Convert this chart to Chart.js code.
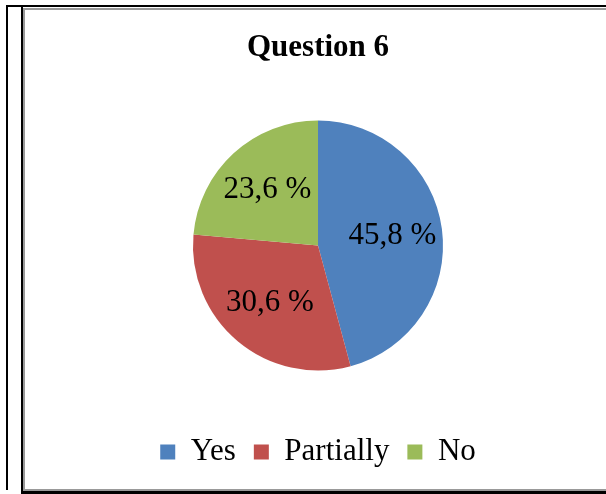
<!DOCTYPE html>
<html>
<head>
<meta charset="utf-8">
<script src="https://cdn.jsdelivr.net/npm/chart.js@4"></script>
<style>
  body { margin: 0; background: #fff; width: 606px; height: 494px; overflow: hidden; position: relative; }
  .ln { position: absolute; }
  #wrap { position: absolute; left: 25px; top: 10px; width: 581px; height: 479px; }
</style>
</head>
<body>
<div class="ln" style="left:6px;top:5px;width:2px;height:485px;background:#000"></div>
<div class="ln" style="left:6px;top:5px;width:600px;height:2px;background:#000"></div>
<div class="ln" style="left:21px;top:7px;width:2px;height:487px;background:#000"></div>
<div class="ln" style="left:23px;top:8px;width:2px;height:481px;background:#999"></div>
<div class="ln" style="left:23px;top:8px;width:583px;height:2px;background:#999"></div>
<div class="ln" style="left:23px;top:489px;width:583px;height:2px;background:#999"></div>
<div class="ln" style="left:21px;top:491px;width:585px;height:3px;background:#000"></div>
<div id="wrap"><canvas id="myChart"></canvas></div>
<script>
const categorias = ['Yes', 'Partially', 'No'];
const valores = [45.8, 30.6, 23.6];
const etiquetas = ['45,8 %', '30,6 %', '23,6 %'];
const colores = ['#4F81BD', '#C0504D', '#9BBB59'];

const fuente = 'Liberation Serif, Times New Roman, serif';

// etiquetas dentro de cada sector
const etiquetasPie = {
    id: 'etiquetasPie',
    afterDatasetsDraw(chart) {
        const ctx = chart.ctx;
        const meta = chart.getDatasetMeta(0);
        ctx.save();
        ctx.font = '31px ' + fuente;
        ctx.fillStyle = '#000';
        ctx.textAlign = 'center';
        ctx.textBaseline = 'middle';
        meta.data.forEach((arc, i) => {
            const p = arc.getProps(['x', 'y', 'startAngle', 'endAngle', 'outerRadius']);
            const a = (p.startAngle + p.endAngle) / 2;
            const r = p.outerRadius * 0.6;
            ctx.fillText(etiquetas[i], p.x + Math.cos(a) * r, p.y + Math.sin(a) * r);
        });
        ctx.restore();
    }
};

const ctx = document.getElementById('myChart');
new Chart(ctx, {
    type: 'pie',
    data: {
        labels: categorias,
        datasets: [{
            data: valores,
            backgroundColor: colores,
            borderWidth: 0
        }]
    },
    options: {
        responsive: true,
        maintainAspectRatio: false,
        animation: false,
        radius: 125,
        layout: { padding: { left: 5, right: 0, top: 0, bottom: 11.5 } },
        plugins: {
            title: {
                display: true,
                text: 'Question 6',
                color: '#000',
                font: { family: fuente, size: 31, weight: 'bold' },
                padding: { top: 19, bottom: 6.3 }
            },
            legend: {
                position: 'bottom',
                labels: {
                    color: '#000',
                    font: { family: fuente, size: 31 },
                    boxWidth: 15,
                    boxHeight: 15,
                    padding: 18
                }
            },
            tooltip: { enabled: false }
        }
    },
    plugins: [etiquetasPie]
});
</script>
</body>
</html>
